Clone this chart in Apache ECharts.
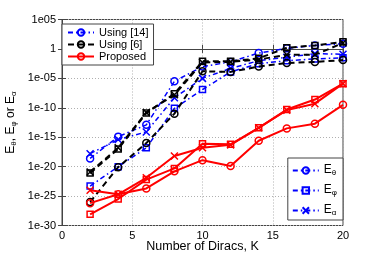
<!DOCTYPE html>
<html><head><meta charset="utf-8">
<script src="https://cdn.jsdelivr.net/npm/echarts@6/dist/echarts.min.js"></script>
<style>html,body{margin:0;padding:0;background:#fff}#c{width:379px;height:255px}</style>
</head><body><div id="c"></div>
<script>
// Number of Diracs
const K = [2, 4, 6, 8, 10, 12, 14, 16, 18, 20];
// log10 of errors
const ref14Theta = [-18.6, -14.9, -12.9, -5.5, -3.0, -2.2, -0.7, 0.1, 0.6, 0.9];
const ref14Phi   = [-23.3, -20.0, -16.8, -10.1, -6.9, -3.9, -2.5, -2.0, -1.7, -1.5];
const ref14Alpha = [-17.8, -15.4, -14.1, -8.3, -5.0, -3.3, -2.0, -1.4, -0.8, -0.9];
const ref6Theta  = [-26.0, -20.1, -16.0, -11.0, -3.8, -3.9, -3.0, -2.4, -2.2, -1.9];
const ref6Phi    = [-21.1, -17.0, -10.9, -7.6, -2.1, -2.1, -1.6, 0.2, 0.6, 1.2];
const ref6Alpha  = [-20.9, -16.8, -10.8, -7.8, -2.3, -2.2, -1.8, -1.0, -1.0, 1.0];
const propTheta  = [-26.2, -24.7, -23.7, -20.8, -18.9, -19.9, -15.6, -13.5, -12.7, -9.5];
const propPhi    = [-28.1, -25.5, -22.2, -20.3, -16.1, -16.2, -13.4, -10.3, -8.6, -5.9];
const propAlpha  = [-24.0, -24.7, -21.9, -18.2, -16.8, -16.3, -13.4, -10.4, -9.3, -5.9];
// ticks
const xTicks = [0, 5, 10, 15, 20];
const yTickValues = [-30, -25, -20, -15, -10, -5, 0, 5];
const yTickLabels = ['1e-30', '1e-25', '1e-20', '1e-15', '1e-10', '1e-05', '1', '1e05'];
const methodNames = ['Using [14]', 'Using [6]', 'Proposed'];
const errorNames = ['Eθ', 'Eφ', 'Eα'];

const BLUE = '#0000ff', BLACK = '#000000', RED = '#ff0000';
const DASHDOT = [5, 3, 1.5, 3], DASHED = [6, 4];
const XSYM = 'path://M0,0L10,10M0,10L10,0';
const SYMS = ['circle', 'rect', XSYM];

function mk(name, vals, color, dash, symbol, width, z) {
  return {
    name: name, type: 'line', z: z,
    data: vals ? K.map((k, i) => [k, vals[i]]) : [],
    symbol: symbol, symbolSize: symbol === 'rect' ? 6 : 7, symbolKeepAspect: true,
    showSymbol: true, animation: false,
    lineStyle: { color: color, width: width, type: dash },
    itemStyle: { color: 'rgba(0,0,0,0)', borderColor: color, borderWidth: 1.5 },
    emphasis: { disabled: true }
  };
}
const series = [
  mk('b1', ref14Theta, BLUE, DASHDOT, SYMS[0], 1.5, 2),
  mk('b2', ref14Phi, BLUE, DASHDOT, SYMS[1], 1.5, 2),
  mk('b3', ref14Alpha, BLUE, DASHDOT, SYMS[2], 1.5, 2),
  mk('k1', ref6Theta, BLACK, DASHED, SYMS[0], 2, 3),
  mk('k2', ref6Phi, BLACK, DASHED, SYMS[1], 2, 3),
  mk('k3', ref6Alpha, BLACK, DASHED, SYMS[2], 2, 3),
  mk('r1', propTheta, RED, 'solid', SYMS[0], 2, 4),
  mk('r2', propPhi, RED, 'solid', SYMS[1], 2, 4),
  mk('r3', propAlpha, RED, 'solid', SYMS[2], 2, 4),
  mk(methodNames[0], null, BLUE, DASHDOT, 'circle', 1.5, 1),
  mk(methodNames[1], null, BLACK, DASHED, 'circle', 2, 1),
  mk(methodNames[2], null, RED, 'solid', 'circle', 2, 1),
  mk(errorNames[0], null, BLUE, DASHDOT, SYMS[0], 1.5, 1),
  mk(errorNames[1], null, BLUE, DASHDOT, SYMS[1], 1.5, 1),
  mk(errorNames[2], null, BLUE, DASHDOT, SYMS[2], 1.5, 1)
];

const FONT = 'Liberation Sans';
const subRich = {
  e: { fontSize: 12, lineHeight: 13, verticalAlign: 'top', fontFamily: FONT, color: '#000' },
  s: { fontSize: 8, lineHeight: 8, padding: [8, 0, 0, 0], verticalAlign: 'bottom', fontFamily: FONT, color: '#000' },
  t: { fontSize: 12, lineHeight: 13, verticalAlign: 'top', fontFamily: FONT, color: '#000' }
};
const gridLine = { show: true, lineStyle: { color: '#b0b0b0', type: [1, 2], width: 1 } };
const axisLineStyle = { show: true, lineStyle: { color: '#444', width: 1 } };

const chart = echarts.init(document.getElementById('c'), null, { renderer: 'canvas' });
chart.setOption({
  backgroundColor: '#fff',
  animation: false,
  grid: { left: 62, right: 36, top: 19.5, bottom: 29.5, show: true, borderColor: '#444', borderWidth: 1,
    containLabel: false, outerBoundsMode: 'none' },
  xAxis: [{
    type: 'value', min: xTicks[0], max: xTicks[xTicks.length - 1], interval: 5,
    axisLine: axisLineStyle, axisTick: { show: true, inside: true, length: 4, lineStyle: { color: '#444' } },
    axisLabel: { fontSize: 11, fontFamily: FONT, color: '#000', margin: 5 },
    splitLine: gridLine,
    name: 'Number of Diracs, K', nameLocation: 'middle', nameGap: 14.5, nameMoveOverlap: false,
    nameTextStyle: { fontSize: 12.5, fontFamily: FONT, color: '#000' }
  }, {
    type: 'value', position: 'top', min: xTicks[0], max: xTicks[xTicks.length - 1], interval: 5,
    axisLine: axisLineStyle, axisTick: { show: true, inside: true, length: 4, lineStyle: { color: '#444' } },
    axisLabel: { show: false }, splitLine: { show: false }
  }],
  yAxis: [{
    type: 'value', min: yTickValues[0], max: yTickValues[yTickValues.length - 1], interval: 5,
    axisLine: axisLineStyle, axisTick: { show: true, inside: true, length: 4, lineStyle: { color: '#444' } },
    axisLabel: { fontSize: 11, fontFamily: FONT, color: '#000', margin: 6,
      formatter: v => yTickLabels[yTickValues.indexOf(v)] },
    splitLine: gridLine,
    name: '{e|E}{s|θ}{t|, E}{s|φ}{t| or E}{s|α}', nameLocation: 'middle', nameRotate: 90, nameGap: 44,
    nameMoveOverlap: false,
    nameTextStyle: { rich: subRich }
  }, {
    type: 'value', position: 'right', min: yTickValues[0], max: yTickValues[yTickValues.length - 1], interval: 5,
    axisLine: axisLineStyle, axisTick: { show: true, inside: true, length: 4, lineStyle: { color: '#444' } },
    axisLabel: { show: false }, splitLine: { show: false }
  }],
  legend: [{
    data: methodNames, orient: 'vertical', left: 62, top: 24,
    padding: [3, 5, 3, 5], itemWidth: 26, itemHeight: 8, itemGap: 1,
    backgroundColor: '#fff', borderColor: '#444', borderWidth: 1,
    textStyle: { fontSize: 11, fontFamily: FONT, color: '#000' },
    selectedMode: false
  }, {
    data: errorNames, orient: 'vertical', right: 36, bottom: 35,
    padding: [3, 6, 3, 4], itemWidth: 26, itemHeight: 8, itemGap: 4,
    backgroundColor: '#fff', borderColor: '#444', borderWidth: 1,
    formatter: n => '{e|E}{s|' + n.slice(1) + '}',
    textStyle: { rich: subRich },
    selectedMode: false
  }],
  series: series
});
</script></body></html>
